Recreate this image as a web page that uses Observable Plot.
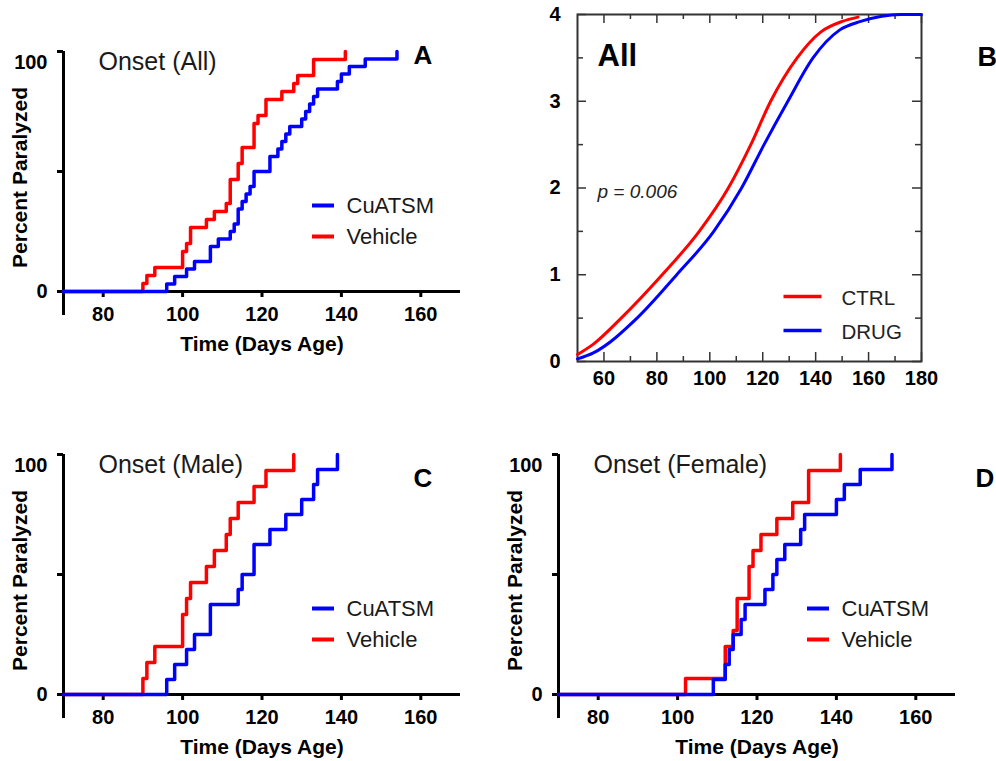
<!DOCTYPE html>
<html>
<head>
<meta charset="utf-8">
<script src="https://cdn.jsdelivr.net/npm/d3@7"></script>
<script src="https://cdn.jsdelivr.net/npm/@observablehq/plot@0.6"></script>
<style>
  body { margin: 0; background: #fff; }
  #fig { position: relative; width: 996px; height: 761px; overflow: hidden; background: #fff; }
  #fig > svg { position: absolute; background: transparent; }
</style>
</head>
<body>
<div id="fig"></div>
<script>
// ---------- Data: onset days (each entry = one animal reaching paralysis) ----------
const maleCuATSM    = [96, 98, 101, 103, 107, 107, 114, 115, 118, 118, 122, 126, 130, 133, 134, 139];
const maleVehicle   = [90, 91, 93, 100, 100, 101, 102, 106, 108, 111, 112, 114, 118, 121, 128];
const femaleCuATSM  = [109, 112, 113, 114, 116, 117, 122, 124, 125, 127, 131, 132, 140, 142, 146, 154];
const femaleVehicle = [102, 112, 112, 114, 115, 115, 118, 118, 119, 121, 125, 129, 133, 133, 141];

const onsetSeries = ["CuATSM", "Vehicle"];
const onsetColors = ["#0000ff", "#ff0000"];
const onsetXDomain = [70, 170];
const onsetYDomain = [0, 100];
const onsetXTicks = [80, 100, 120, 140, 160];
const onsetYTicks = [0, 50, 100];
const onsetYLabels = [0, 100];

// ---------- Data: panel B cumulative curves ----------
const ctrlDays   = [50, 56, 66.5, 82, 96, 107, 115.5, 123, 133, 142, 150, 156];
const ctrlValues = [0.08, 0.2, 0.5, 1.0, 1.5, 2.0, 2.5, 3.0, 3.5, 3.8, 3.92, 3.97];
const drugDays   = [50, 56, 72.5, 87.5, 101.5, 112, 120.5, 129.5, 139, 149, 157, 165, 172, 180];
const drugValues = [0.03, 0.1, 0.5, 1.0, 1.5, 2.0, 2.5, 3.0, 3.5, 3.82, 3.92, 3.98, 4.0, 4.0];
const bSeries = ["CTRL", "DRUG"];
const bColors = ["#ff0000", "#0000ff"];
const bXDomain = [50, 180];
const bYDomain = [0, 4];
const bXMajor = [60, 80, 100, 120, 140, 160, 180];
const bXMinor = [70, 90, 110, 130, 150, 170];
const bYMajor = [0, 1, 2, 3, 4];
const bYMinor = [0.5, 1.5, 2.5, 3.5];

const FONT = "'Liberation Sans', Arial, Helvetica, sans-serif";
const swatch = {
  draw(ctx, size) {
    const r = Math.sqrt(size / Math.PI);
    ctx.moveTo(-r, 0);
    ctx.lineTo(r, 0);
  }
};

// cumulative percent (no censoring) as step points
function cumulative(days, series) {
  const sorted = [...days].sort((a, b) => a - b);
  const n = sorted.length;
  const pts = [{day: onsetXDomain[0], pct: 0, series}];
  for (const d of [...new Set(sorted)]) {
    pts.push({day: d, pct: 100 * sorted.filter(v => v <= d).length / n, series});
  }
  return pts;
}

function onsetPanel({left, top, width, title, letter, letterDx, letterDy, cu, veh}) {
  const data = [...cumulative(veh, "Vehicle"), ...cumulative(cu, "CuATSM")];
  const labelStyle = {tickSize: 0, tickPadding: 16, fontSize: 20, fontWeight: "bold", fill: "#000", label: null};
  const svg = Plot.plot({
    width, height: 380,
    marginLeft: 63, marginRight: width - 460, marginTop: 51, marginBottom: 89,
    style: {fontFamily: FONT, background: "transparent", overflow: "visible"},
    x: {domain: onsetXDomain},
    y: {domain: onsetYDomain},
    color: {domain: onsetSeries, range: onsetColors},
    marks: [
      Plot.axisY({ticks: onsetYTicks, tickSize: 6, strokeWidth: 3, stroke: "#000", fill: "none", label: null}),
      Plot.axisY({ticks: [onsetYLabels[0]], ...labelStyle}),
      Plot.axisY({ticks: [onsetYLabels[1]], dy: 11, ...labelStyle}),
      Plot.axisX({ticks: onsetXTicks, tickSize: 6, strokeWidth: 3, stroke: "#000", tickPadding: 9,
                  fontSize: 20, fontWeight: "bold", fill: "#000", label: null}),
      Plot.ruleX([onsetXDomain[0]], {y1: onsetYDomain[1], y2: onsetYDomain[0], insetBottom: -24, stroke: "#000", strokeWidth: 3}),
      Plot.ruleY([onsetYDomain[0]], {x1: onsetXDomain[0], x2: onsetXDomain[1], insetLeft: -6, stroke: "#000", strokeWidth: 3}),
      Plot.text(["Percent Paralyzed"], {frameAnchor: "left", rotate: -90, dx: -43, dy: 6, textAnchor: "middle",
                  lineAnchor: "middle", fontSize: 21, fontWeight: "bold", fill: "#000"}),
      Plot.text(["Time (Days Age)"], {frameAnchor: "bottom", dy: 59, textAnchor: "middle", lineAnchor: "bottom",
                  fontSize: 21, fontWeight: "bold", fill: "#000"}),
      Plot.line(data, {x: "day", y: "pct", z: "series", stroke: "series", curve: "step-after", strokeWidth: 3.5}),
      Plot.text([title], {frameAnchor: "top-left", dx: 35, dy: 18, textAnchor: "start", lineAnchor: "bottom",
                  fontSize: 25, fill: "#1a1a1a"}),
      Plot.text([letter], {frameAnchor: "top-left", dx: letterDx, dy: letterDy, textAnchor: "start", lineAnchor: "bottom",
                  fontSize: 26, fontWeight: "bold", fill: "#000"}),
      ...onsetSeries.map((s, i) => Plot.dot([s], {frameAnchor: "top-left", dx: 259.5, dy: 154 + 31 * i,
                  symbol: swatch, r: 11, stroke: d => d, fill: "none", strokeWidth: 4, strokeLinecap: "butt"})),
      ...onsetSeries.map((s, i) => Plot.text([s], {frameAnchor: "top-left", dx: 283, dy: 154 + 31 * i,
                  textAnchor: "start", lineAnchor: "middle", fontSize: 22, fill: "#1a1a1a"}))
    ]
  });
  svg.style.left = left + "px";
  svg.style.top = top + "px";
  return svg;
}

function panelB() {
  const data = [
    ...ctrlDays.map((d, i) => ({day: d, value: ctrlValues[i], series: "CTRL"})),
    ...drugDays.map((d, i) => ({day: d, value: drugValues[i], series: "DRUG"}))
  ];
  const tickStyle = {stroke: "#333", strokeWidth: 1.5};
  const svg = Plot.plot({
    width: 496, height: 400,
    marginLeft: 77, marginRight: 75, marginTop: 14, marginBottom: 39,
    style: {fontFamily: FONT, background: "transparent", overflow: "visible"},
    x: {domain: bXDomain},
    y: {domain: bYDomain},
    color: {domain: bSeries, range: bColors},
    marks: [
      // inward ticks on all four sides
      Plot.ruleY(bYMajor, {y: d => d, x1: bXDomain[0], x2: bXDomain[0], insetRight: -9, ...tickStyle}),
      Plot.ruleY(bYMinor, {y: d => d, x1: bXDomain[0], x2: bXDomain[0], insetRight: -6, ...tickStyle}),
      Plot.ruleY(bYMajor, {y: d => d, x1: bXDomain[1], x2: bXDomain[1], insetLeft: -9, ...tickStyle}),
      Plot.ruleY(bYMinor, {y: d => d, x1: bXDomain[1], x2: bXDomain[1], insetLeft: -6, ...tickStyle}),
      Plot.ruleX(bXMajor, {x: d => d, y1: bYDomain[0], y2: bYDomain[0], insetTop: -9, ...tickStyle}),
      Plot.ruleX(bXMinor, {x: d => d, y1: bYDomain[0], y2: bYDomain[0], insetTop: -5, ...tickStyle}),
      Plot.ruleX(bXMajor, {x: d => d, y1: bYDomain[1], y2: bYDomain[1], insetBottom: -9, ...tickStyle}),
      Plot.ruleX(bXMinor, {x: d => d, y1: bYDomain[1], y2: bYDomain[1], insetBottom: -5, ...tickStyle}),
      Plot.frame({stroke: "#333", strokeWidth: 2}),
      Plot.axisY({ticks: bYMajor, tickFormat: d => String(d), tickSize: 0, tickPadding: 17,
                  fontSize: 20, fontWeight: "bold", fill: "#000", label: null}),
      Plot.axisX({ticks: bXMajor, tickFormat: d => String(d), tickSize: 0, tickPadding: 9,
                  fontSize: 20, fontWeight: "bold", fill: "#000", label: null}),
      Plot.line(data, {x: "day", y: "value", z: "series", stroke: "series", curve: "monotone-x", strokeWidth: 3}),
      Plot.text(["All"], {frameAnchor: "top-left", dx: 20, dy: 51, textAnchor: "start", lineAnchor: "bottom",
                  fontSize: 31, fontWeight: "bold", fill: "#000"}),
      Plot.text(["p = 0.006"], {frameAnchor: "top-left", dx: 20, dy: 183, textAnchor: "start", lineAnchor: "bottom",
                  fontSize: 19, fontStyle: "italic", fill: "#222"}),
      Plot.text(["B"], {frameAnchor: "top-left", dx: 400, dy: 51, textAnchor: "start", lineAnchor: "bottom",
                  fontSize: 27, fontWeight: "bold", fill: "#000"}),
      ...bSeries.map((s, i) => Plot.dot([s], {frameAnchor: "top-left", dx: 225, dy: 282 + 34 * i,
                  symbol: swatch, r: 19, stroke: d => d, fill: "none", strokeWidth: 3.5, strokeLinecap: "butt"})),
      ...bSeries.map((s, i) => Plot.text([s], {frameAnchor: "top-left", dx: 264, dy: 284 + 34 * i,
                  textAnchor: "start", lineAnchor: "middle", fontSize: 20.5, fill: "#222"}))
    ]
  });
  svg.style.left = "500px";
  svg.style.top = "0px";
  return svg;
}

const fig = document.getElementById("fig");
fig.append(
  onsetPanel({left: 0, top: 0, width: 480, title: "Onset (All)", letter: "A", letterDx: 350, letterDy: 12,
              cu: [...maleCuATSM, ...femaleCuATSM], veh: [...maleVehicle, ...femaleVehicle]}),
  panelB(),
  onsetPanel({left: 0, top: 403, width: 480, title: "Onset (Male)", letter: "C", letterDx: 350, letterDy: 32,
              cu: maleCuATSM, veh: maleVehicle}),
  onsetPanel({left: 495, top: 403, width: 501, title: "Onset (Female)", letter: "D", letterDx: 417, letterDy: 32,
              cu: femaleCuATSM, veh: femaleVehicle})
);
</script>
</body>
</html>
